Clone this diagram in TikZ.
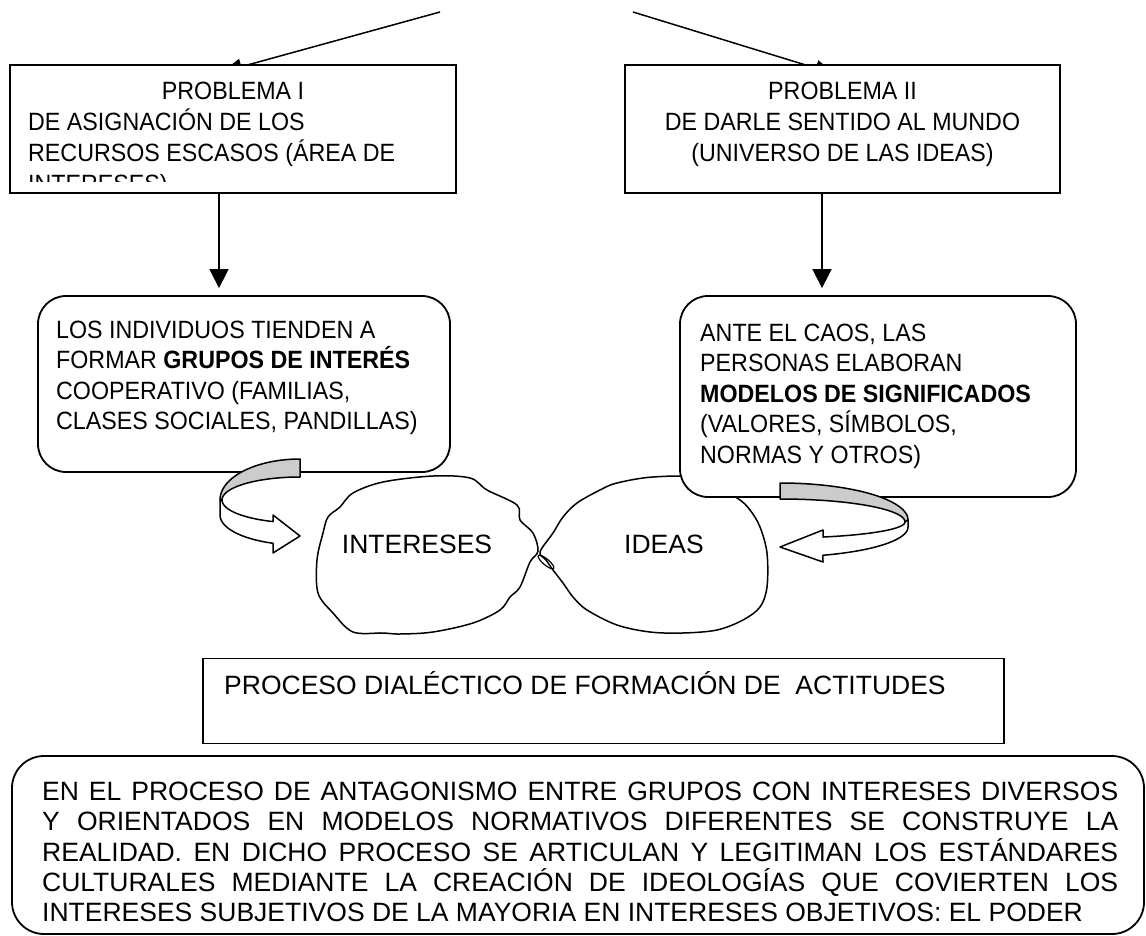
\documentclass[tikz,border=0pt]{standalone}
\usepackage{fontspec}
\setmainfont{Liberation Sans}
\newfontfamily\boxfont[FakeStretch=0.93]{Liberation Sans}
\usetikzlibrary{arrows.meta}
\definecolor{bandgray}{RGB}{204,204,204}
\newcommand\myfs{\fontsize{26.5}{30.5}\selectfont}
\newcommand\mybfs{\boxfont\fontsize{25}{30.5}\selectfont}
\begin{document}
\begin{tikzpicture}[x=1pt,y=-1pt,
  box/.style={draw, line width=1.8pt, fill=white, inner sep=0pt},
  rbox/.style={box, rounded corners=28pt},
  txt/.style={inner sep=0pt, anchor=base west, font=\myfs},
  btxt/.style={inner sep=0pt, anchor=base west, font=\mybfs},
  bctxt/.style={inner sep=0pt, anchor=base, font=\mybfs},
  ctxt/.style={inner sep=0pt, anchor=base, font=\myfs},
  arr/.style={line width=1.6pt, -{Triangle[length=19pt,width=19pt]}},
  toparr/.style={line width=1.5pt, -{Triangle[length=20pt,width=16pt]}},
  cloud/.style={line width=1.5pt},
  ribbon/.style={line width=1.5pt, line join=round}
]
\useasboundingbox (0,0) rectangle (1146,936);

% top incoming lines
\coordinate (sL) at (440,12);
\coordinate (tL) at (222,72);
\coordinate (sR) at (633,12);
\coordinate (tR) at (835,74);
\draw[toparr] (sL) -- (tL);
\draw[toparr] (sR) -- (tR);

% problem boxes
\node[box, minimum width=446pt, minimum height=128pt] (pI) at (233,129) {};
\node[box, minimum width=435pt, minimum height=128pt] (pII) at (842.5,129) {};

\node[bctxt] (pIt1) at (233,100) {PROBLEMA I};
\begin{scope}
  \clip (12,67) rectangle (454,182);
  \node[btxt] (pIt2) at (28,131) {DE ASIGNACIÓN DE LOS};
  \node[btxt] (pIt3) at (28,162) {RECURSOS ESCASOS (ÁREA DE};
  \node[btxt] (pIt4) at (28,193) {INTERESES)};
\end{scope}
\node[bctxt] (pIIt1) at (842.5,100) {PROBLEMA II};
\node[bctxt] (pIIt2) at (842.5,131) {DE DARLE SENTIDO AL MUNDO};
\node[bctxt] (pIIt3) at (842.5,162) {(UNIVERSO DE LAS IDEAS)};

% clouds
\draw[cloud] plot[smooth cycle, tension=0.55] coordinates {
 (353,493) (383,482) (433,476) (470,478) (487,490) (517,505) (520,520)
 (533,533) (538,551) (530,562) (520,587) (510,597) (500,610) (473,623)
 (433,632) (400,634) (383,633) (353,632) (333,613) (318,593) (317,560)
 (323,533) (328,517) (340,507)};
\draw[cloud] plot[smooth cycle, tension=0.55] coordinates {
 (540,552) (553,533) (563,517) (577,503) (600,490) (617,483) (653,477)
 (700,478) (737,498) (750,510) (760,527) (767,553) (767,587) (760,607)
 (743,620) (717,630) (683,633) (650,632) (617,625) (587,610) (573,597)
 (563,583) (553,570) (546,560)};
\draw[line width=1.2pt, shift={(546,562)}, rotate=-40] (0,0) ellipse [x radius=10, y radius=3];
\node[ctxt] (cI) at (417,553) {INTERESES};
\node[ctxt] (cD) at (664,553) {IDEAS};

% rounded boxes A and B
\node[rbox, minimum width=412pt, minimum height=176pt] (bA) at (244,384) {};
\node[rbox, minimum width=396pt, minimum height=201pt] (bB) at (878,396.5) {};

\node[btxt] (bAt1) at (56,338) {LOS INDIVIDUOS TIENDEN A};
\node[btxt] (bAt2) at (56,368.5) {FORMAR \textbf{GRUPOS DE INTERÉS}};
\node[btxt] (bAt3) at (56,399) {COOPERATIVO (FAMILIAS,};
\node[btxt] (bAt4) at (56,429.5) {CLASES SOCIALES, PANDILLAS)};

\node[btxt] (bBt1) at (700,341) {ANTE EL CAOS, LAS};
\node[btxt] (bBt2) at (700,371.5) {PERSONAS ELABORAN};
\node[btxt] (bBt3) at (700,402) {\textbf{MODELOS DE SIGNIFICADOS}};
\node[btxt] (bBt4) at (700,432.5) {(VALORES, SÍMBOLOS,};
\node[btxt] (bBt5) at (700,463) {NORMAS Y OTROS)};

% down arrows
\draw[arr, shorten >=7pt] ([xshift=-14pt]pI.south) -- ([xshift=-25pt]bA.north);
\draw[arr, shorten >=7pt] ([xshift=-20.5pt]pII.south) -- ([xshift=-56pt]bB.north);

% left curved ribbon arrow
\draw[ribbon, fill=bandgray]
  plot[domain=90:180, samples=40] ({300+80*cos(\x)},{500-41*sin(\x)})
  -- plot[domain=180:90, samples=40] ({300+78*cos(\x)},{500-23*sin(\x)})
  -- cycle;
\draw[ribbon, fill=white]
  (220,500) -- (220,515)
  -- plot[domain=180:109.7, samples=40] ({300+80*cos(\x)},{515+30*sin(\x)})
  -- (273,553) -- (300,536) -- (273,515) -- (273,521.6)
  -- plot[domain=110.3:180, samples=40] ({300+78*cos(\x)},{500+23*sin(\x)})
  -- cycle;

% right curved ribbon arrow
\draw[ribbon, fill=bandgray]
  plot[domain=90:0, samples=40] ({780+128*cos(\x)},{520-37*sin(\x)})
  -- plot[domain=0:90, samples=40] ({780+125*cos(\x)},{522-23*sin(\x)})
  -- cycle;
\draw[ribbon, fill=white]
  (908,520) -- (908,527)
  -- plot[domain=0:70.4, samples=40] ({780+128*cos(\x)},{527+30*sin(\x)})
  -- (823,562) -- (780,547) -- (823,530) -- (823,537)
  -- plot[domain=69.9:0, samples=40] ({780+125*cos(\x)},{522+16*sin(\x)})
  -- cycle;

% process box
\node[box, minimum width=801pt, minimum height=85pt] (proc) at (603.5,701) {};
\node[txt] (procT) at (224,694) {PROCESO DIALÉCTICO DE FORMACIÓN DE\ \ ACTITUDES};

% bottom box
\node[box, rounded corners=32pt, minimum width=1132pt, minimum height=178pt] (fin) at (578,845) {};
\node[txt] (f1) at (42,800) {\makebox[1076pt][s]{EN EL PROCESO DE ANTAGONISMO ENTRE GRUPOS CON INTERESES DIVERSOS}};
\node[txt] (f2) at (42,830.5) {\makebox[1076pt][s]{Y ORIENTADOS EN MODELOS NORMATIVOS DIFERENTES SE CONSTRUYE LA}};
\node[txt] (f3) at (42,861) {\makebox[1076pt][s]{REALIDAD. EN DICHO PROCESO SE ARTICULAN Y LEGITIMAN LOS ESTÁNDARES}};
\node[txt] (f4) at (42,891) {\makebox[1076pt][s]{CULTURALES MEDIANTE LA CREACIÓN DE IDEOLOGÍAS QUE COVIERTEN LOS}};
\node[txt] (f5) at (42,921) {INTERESES SUBJETIVOS DE LA MAYORIA EN INTERESES OBJETIVOS: EL PODER};
\end{tikzpicture}
\end{document}
